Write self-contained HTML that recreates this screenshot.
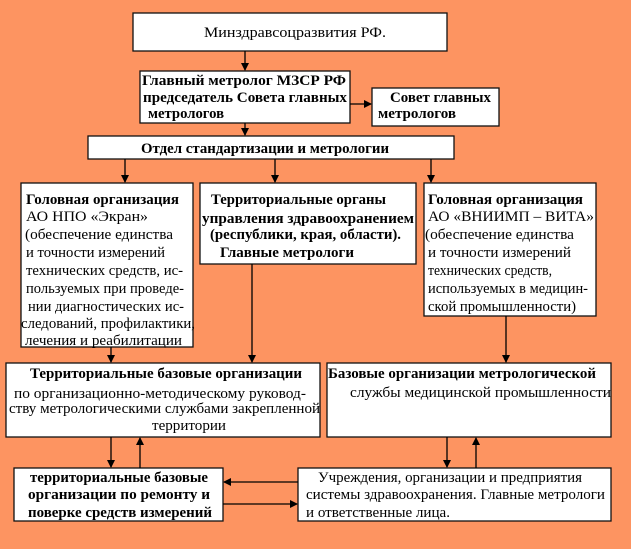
<!DOCTYPE html>
<html><head><meta charset="utf-8"><style>
html,body{margin:0;padding:0;background:#FD9461;}
svg{display:block;font-family:"Liberation Serif",serif;font-size:15px;}
.b{font-weight:bold}
rect{fill:#fff;stroke:#111;stroke-width:1.3}
line{stroke:#000;stroke-width:1.3}
</style></head><body>
<svg width="631" height="549" viewBox="0 0 631 549" xmlns="http://www.w3.org/2000/svg">
<defs><marker id="a" markerWidth="8" markerHeight="8" refX="7" refY="4" orient="auto" markerUnits="userSpaceOnUse"><path d="M0,0 L8,4 L0,8 z" fill="#000"/></marker></defs>
<rect x="133" y="13" width="314" height="38"/>
<rect x="140" y="71" width="210" height="52"/>
<rect x="372" y="88" width="127" height="38"/>
<rect x="88" y="136" width="366" height="23"/>
<rect x="21" y="183" width="172" height="164"/>
<rect x="200" y="183" width="216" height="81"/>
<rect x="424" y="183" width="172" height="133"/>
<rect x="6" y="363" width="314" height="74"/>
<rect x="327" y="363" width="284" height="74"/>
<rect x="14" y="468" width="209" height="53"/>
<rect x="298" y="468" width="313" height="53"/>
<line x1="245" y1="51" x2="245" y2="70" marker-end="url(#a)"/>
<line x1="350" y1="104" x2="371" y2="104" marker-end="url(#a)"/>
<line x1="245" y1="123" x2="245" y2="135" marker-end="url(#a)"/>
<line x1="125" y1="159" x2="125" y2="182" marker-end="url(#a)"/>
<line x1="275" y1="159" x2="275" y2="182" marker-end="url(#a)"/>
<line x1="431" y1="159" x2="431" y2="182" marker-end="url(#a)"/>
<line x1="111" y1="347" x2="111" y2="362" marker-end="url(#a)"/>
<line x1="252" y1="264" x2="252" y2="362" marker-end="url(#a)"/>
<line x1="506" y1="316" x2="506" y2="362" marker-end="url(#a)"/>
<line x1="111" y1="437" x2="111" y2="467" marker-end="url(#a)"/>
<line x1="140" y1="468" x2="140" y2="438" marker-end="url(#a)"/>
<line x1="447" y1="437" x2="447" y2="467" marker-end="url(#a)"/>
<line x1="476" y1="468" x2="476" y2="438" marker-end="url(#a)"/>
<line x1="298" y1="482" x2="224" y2="482" marker-end="url(#a)"/>
<line x1="223" y1="504" x2="297" y2="504" marker-end="url(#a)"/>
<g>
<text x="204" y="37" textLength="182" lengthAdjust="spacingAndGlyphs">Минздравсоцразвития РФ.</text>
<text class="b" x="142" y="85" textLength="204" lengthAdjust="spacingAndGlyphs">Главный метролог МЗСР РФ</text>
<text class="b" x="143" y="102" textLength="204" lengthAdjust="spacingAndGlyphs">председатель Совета главных</text>
<text class="b" x="148" y="118" textLength="76" lengthAdjust="spacingAndGlyphs">метрологов</text>
<text class="b" x="390" y="102" textLength="101" lengthAdjust="spacingAndGlyphs">Совет главных</text>
<text class="b" x="378" y="118" textLength="78" lengthAdjust="spacingAndGlyphs">метрологов</text>
<text class="b" x="141" y="153" textLength="248" lengthAdjust="spacingAndGlyphs">Отдел стандартизации и метрологии</text>
<text class="b" x="26" y="204" textLength="153" lengthAdjust="spacingAndGlyphs">Головная организация</text>
<text x="26" y="221" textLength="122" lengthAdjust="spacingAndGlyphs">АО НПО «Экран»</text>
<text x="25" y="239" textLength="148" lengthAdjust="spacingAndGlyphs">(обеспечение единства</text>
<text x="26" y="257" textLength="139" lengthAdjust="spacingAndGlyphs">и точности измерений</text>
<text x="26" y="275" textLength="157" lengthAdjust="spacingAndGlyphs">технических средств, ис-</text>
<text x="26" y="293" textLength="158" lengthAdjust="spacingAndGlyphs">пользуемых при проведе-</text>
<text x="28" y="311" textLength="156" lengthAdjust="spacingAndGlyphs">нии диагностических ис-</text>
<text x="21" y="328" textLength="174" lengthAdjust="spacingAndGlyphs">следований, профилактики,</text>
<text x="25" y="345" textLength="157" lengthAdjust="spacingAndGlyphs">лечения и реабилитации</text>
<text class="b" x="211" y="204" textLength="175" lengthAdjust="spacingAndGlyphs">Территориальные органы</text>
<text class="b" x="202" y="223" textLength="212" lengthAdjust="spacingAndGlyphs">управления здравоохранением</text>
<text class="b" x="210" y="239" textLength="191" lengthAdjust="spacingAndGlyphs">(республики, края, области).</text>
<text class="b" x="220" y="257" textLength="134" lengthAdjust="spacingAndGlyphs">Главные метрологи</text>
<text class="b" x="428" y="204" textLength="155" lengthAdjust="spacingAndGlyphs">Головная организация</text>
<text x="428" y="221" textLength="166" lengthAdjust="spacingAndGlyphs">АО «ВНИИМП – ВИТА»</text>
<text x="425" y="239" textLength="149" lengthAdjust="spacingAndGlyphs">(обеспечение единства</text>
<text x="428" y="257" textLength="143" lengthAdjust="spacingAndGlyphs">и точности измерений</text>
<text x="428" y="275" textLength="124" lengthAdjust="spacingAndGlyphs">технических средств,</text>
<text x="428" y="293" textLength="160" lengthAdjust="spacingAndGlyphs">используемых в медицин-</text>
<text x="428" y="311" textLength="148" lengthAdjust="spacingAndGlyphs">ской промышленности)</text>
<text class="b" x="30" y="378" textLength="272" lengthAdjust="spacingAndGlyphs">Территориальные базовые организации</text>
<text x="14" y="398" textLength="292" lengthAdjust="spacingAndGlyphs">по организационно-методическому руковод-</text>
<text x="9" y="413" textLength="311" lengthAdjust="spacingAndGlyphs">ству метрологическими службами закрепленной</text>
<text x="152" y="430" textLength="74" lengthAdjust="spacingAndGlyphs">территории</text>
<text class="b" x="328" y="378" textLength="268" lengthAdjust="spacingAndGlyphs">Базовые организации метрологической</text>
<text x="350" y="397" textLength="261" lengthAdjust="spacingAndGlyphs">службы медицинской промышленности</text>
<text class="b" x="30" y="482" textLength="178" lengthAdjust="spacingAndGlyphs">территориальные базовые</text>
<text class="b" x="28" y="499" textLength="182" lengthAdjust="spacingAndGlyphs">организации по ремонту и</text>
<text class="b" x="28" y="517" textLength="184" lengthAdjust="spacingAndGlyphs">поверке средств измерений</text>
<text x="318" y="482" textLength="264" lengthAdjust="spacingAndGlyphs">Учреждения, организации и предприятия</text>
<text x="306" y="499" textLength="299" lengthAdjust="spacingAndGlyphs">системы здравоохранения. Главные метрологи</text>
<text x="306" y="517" textLength="144" lengthAdjust="spacingAndGlyphs">и ответственные лица.</text>
</g>
</svg>
</body></html>
